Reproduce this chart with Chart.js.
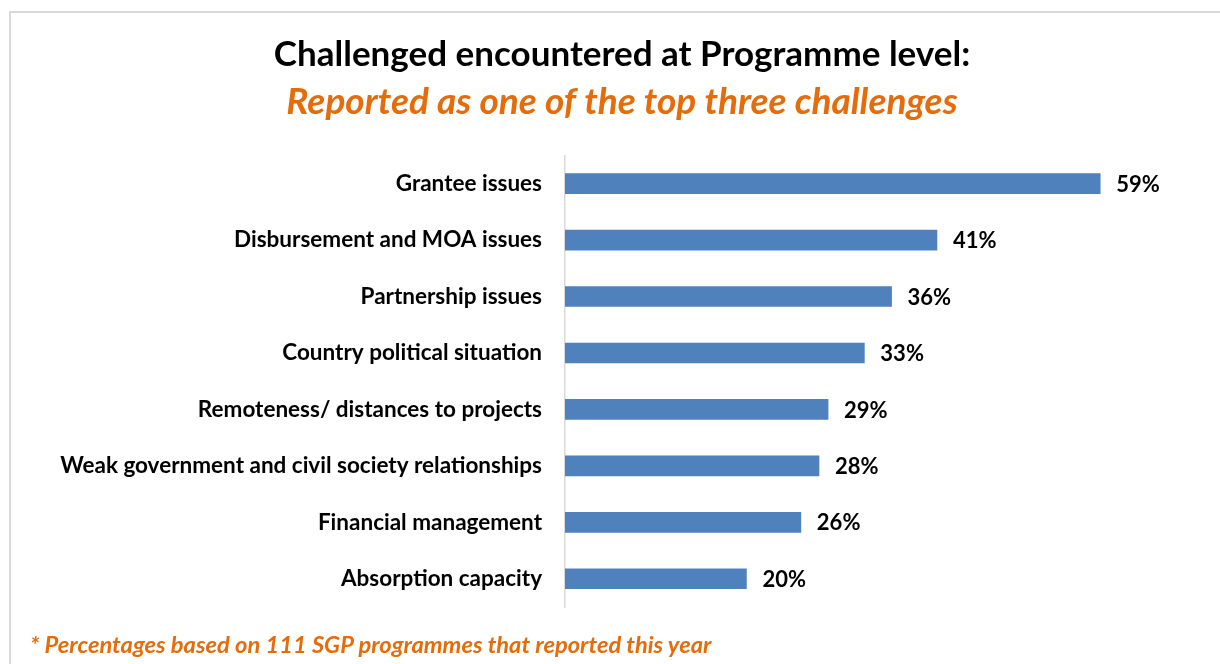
<!DOCTYPE html>
<html>
<head>
<meta charset="utf-8">
<script src="https://cdn.jsdelivr.net/npm/chart.js@4"></script>
<style>
  body { margin: 0; background: #fff; }
  #wrap { position: relative; width: 1220px; height: 664px; overflow: hidden; }
  #frame { position: absolute; left: 9px; top: 11px; width: 1240px; height: 700px;
           border: 2px solid #d9d9d9; box-sizing: border-box; }
  #chart { position: absolute; left: 0; top: 0; }
  #note { position: absolute; left: 30px; top: 630px; font-family: Lato, sans-serif; line-height: 29px;
          font-weight: bold; font-style: italic; font-size: 23.7px; color: #e46c0a; white-space: nowrap; }
</style>
</head>
<body>
<div id="wrap">
  <div id="frame"></div>
  <canvas id="chart" width="1220" height="664"></canvas>
  <div id="note">* Percentages based on 111 SGP programmes that reported this year</div>
</div>
<script>
// chart data
const categories = [
    'Grantee issues',
    'Disbursement and MOA issues',
    'Partnership issues',
    'Country political situation',
    'Remoteness/ distances to projects',
    'Weak government and civil society relationships',
    'Financial management',
    'Absorption capacity'
];
const shares = [59, 41, 36, 33, 29, 28, 26, 20];

const FONT = 'Lato, sans-serif';
const ORANGE = '#e46c0a';
const PAD_LEFT = 44;

// --- value labels at bar ends ---
const valueLabels = {
    id: 'valueLabels',
    afterDatasetsDraw(chart) {
        const ctx = chart.ctx;
        const meta = chart.getDatasetMeta(0);
        ctx.save();
        ctx.font = 'bold 22px ' + FONT;
        ctx.fillStyle = '#000';
        ctx.textAlign = 'left';
        ctx.textBaseline = 'middle';
        meta.data.forEach((bar, i) => {
            ctx.fillText(shares[i] + '%', bar.x + 16, bar.y + 1);
        });
        ctx.restore();
    }
};

const ctx = document.getElementById('chart').getContext('2d');
new Chart(ctx, {
    type: 'bar',
    data: {
        labels: categories,
        datasets: [{
            data: shares,
            backgroundColor: '#4f81bd',
            borderWidth: 0,
            barThickness: 20
        }]
    },
    plugins: [valueLabels],
    options: {
        indexAxis: 'y',
        responsive: false,
        animation: false,
        layout: { padding: { left: PAD_LEFT, right: 20, top: 0, bottom: 57 } },
        scales: {
            x: {
                display: false,
                min: 0,
                max: 70
            },
            y: {
                grid: { display: false, drawTicks: false },
                border: { display: true, color: '#d9d9d9', width: 1.5 },
                ticks: {
                    padding: 23,
                    color: '#000',
                    font: { family: FONT, size: 22.5, weight: 'bold' }
                },
                afterFit: (scale) => { scale.width = 565 - PAD_LEFT; }
            }
        },
        plugins: {
            legend: { display: false },
            tooltip: { enabled: false },
            title: {
                display: true,
                text: 'Challenged encountered at Programme level:',
                color: '#000',
                font: { family: FONT, size: 35, weight: 'bold', lineHeight: 1.2 },
                padding: { top: 34, bottom: 4 }
            },
            subtitle: {
                display: true,
                text: 'Reported as one of the top three challenges',
                color: ORANGE,
                font: { family: FONT, size: 37, weight: 'bold', style: 'italic', lineHeight: 1.2 },
                padding: { top: 0, bottom: 31 }
            }
        }
    }
});
</script>
</body>
</html>
